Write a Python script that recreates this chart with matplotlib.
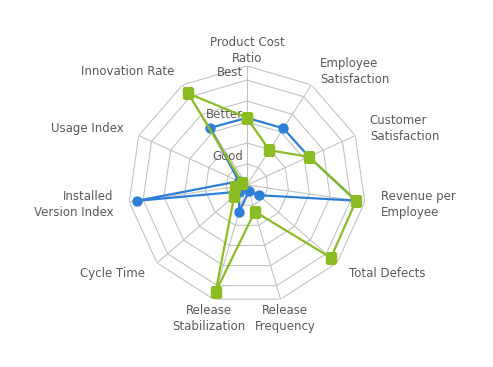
import numpy as np
import matplotlib.pyplot as plt
from matplotlib.transforms import offset_copy

categories = ['Product Cost\nRatio', 'Employee\nSatisfaction', 'Customer\nSatisfaction',
              'Revenue per\nEmployee', 'Total Defects', 'Release\nFrequency',
              'Release\nStabilization', 'Cycle Time', 'Installed\nVersion Index',
              'Usage Index', 'Innovation Rate']
blue = [3.2, 3.21, 3.24, 5.25, 0.74, 0.32, 1.35, 0.48, 5.31, 0.43, 3.24]
green = [3.2, 1.97, 3.24, 5.25, 5.29, 1.32, 5.32, 0.8, 0.59, 0.24, 5.19]

rings = [1, 2, 3, 4, 5]
ring_names = {1: 'Good', 3: 'Better', 5: 'Best'}
r_max = 5.67

grid_col = '#c0c0c0'
text_col = '#5a5a5a'

fig = plt.figure(figsize=(4.93, 3.67), dpi=100)
ax = fig.add_axes([128 / 493, 63 / 367, 238 / 493, 238 / 367], projection='polar')
ax.set_theta_zero_location('N')
ax.set_theta_direction(-1)
ax.set_ylim(0, r_max)
ax.axis('off')

n = len(categories)
theta = np.arange(n) * 2 * np.pi / n
closed = np.append(theta, theta[0])

# polygon grid
for v in rings + [r_max]:
    ax.plot(closed, [v] * (n + 1), color=grid_col, lw=0.75, zorder=1)
for t in theta:
    ax.plot([t, t], [0, r_max], color=grid_col, lw=0.75, zorder=1)

ax.plot(closed, blue + blue[:1], color='#2f7ed8', lw=1.6, marker='o', ms=6.5,
        mec='#2f7ed8', zorder=3)
ax.plot(closed, green + green[:1], color='#8bbc21', lw=1.6, marker='s', ms=6.5,
        mec='#8bbc21', zorder=4)

for t, lab in zip(theta, categories):
    s, c = np.sin(t), np.cos(t)
    ha = 'left' if s > 0.35 else ('right' if s < -0.35 else 'center')
    r = r_max * 1.134
    tr = offset_copy(ax.transData, fig=fig, x=0, y=-4 if c < -0.9 else 0, units='dots')
    ax.text(t, r, lab, transform=tr, ha=ha, va='center', fontsize=8.5,
            color=text_col, linespacing=1.3)

tr = offset_copy(ax.transData, fig=fig, x=-4, y=8, units='dots')
for v, name in ring_names.items():
    ax.text(0, v, name, transform=tr, ha='right', va='center', fontsize=8.5,
            color=text_col)

fig.savefig('out.png', dpi=100)
